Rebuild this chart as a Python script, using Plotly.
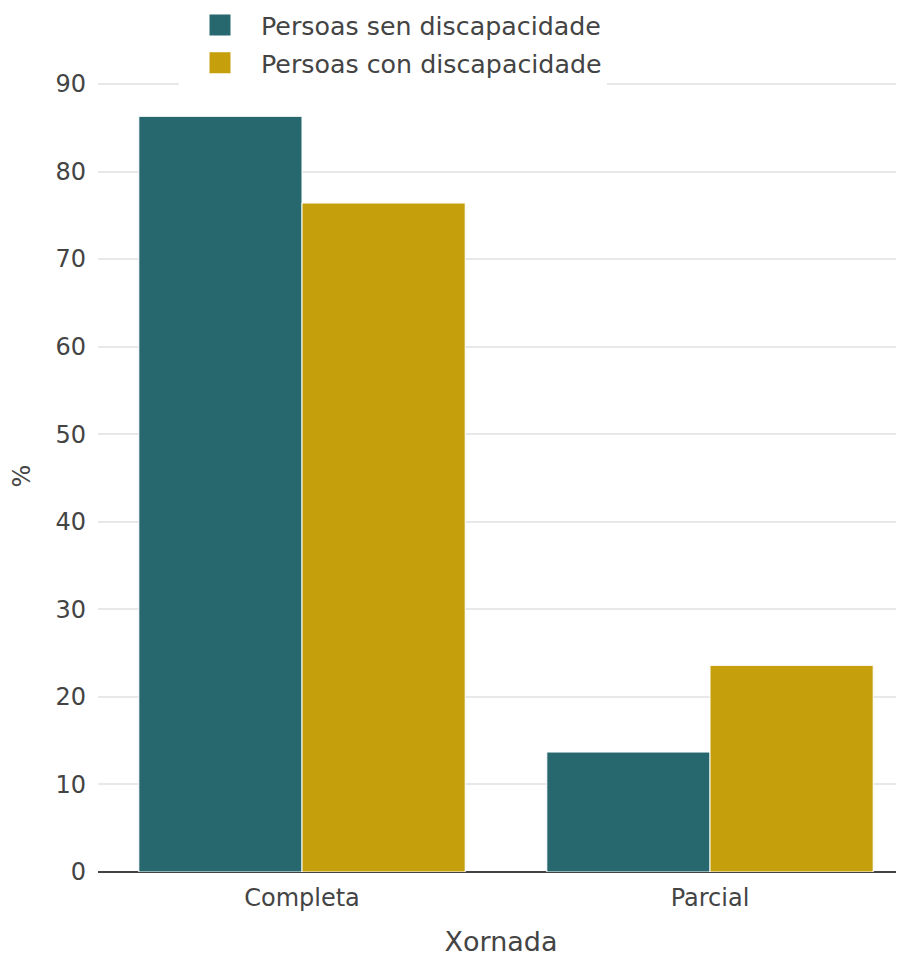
import plotly.graph_objects as go

categories = ["Completa", "Parcial"]
series_names = ["Persoas sen discapacidade", "Persoas con discapacidade"]
sen_values = [86.3, 13.7]
con_values = [76.4, 23.6]
colors = ["#27686e", "#c6a00c"]
y_ticks = [0, 10, 20, 30, 40, 50, 60, 70, 80, 90]

FONT = "DejaVu Sans"
TXT = "#444444"

fig = go.Figure()
for i, (name, vals, col) in enumerate(zip(series_names, [sen_values, con_values], colors)):
    fig.add_trace(go.Bar(
        x=categories, y=vals, name=name,
        marker=dict(color=col, line=dict(color="white", width=1)),
        showlegend=False,
    ))
    fig.add_trace(go.Scatter(
        x=[None], y=[None], name=name, mode="markers", legendgroup=f"g{i}",
        marker=dict(symbol="square", size=22, color=col, line=dict(color=col, width=6)),
        showlegend=True,
    ))

fig.update_layout(
    width=896, height=952,
    margin=dict(l=90, r=0, t=72, b=88, autoexpand=False),
    paper_bgcolor="white", plot_bgcolor="white",
    barmode="group", bargap=0.2, bargroupgap=0,
    font=dict(family=FONT, color=TXT, size=24),
    legend=dict(
        x=0.1005, y=1.0985, xanchor="left", yanchor="top",
        bgcolor="white", font=dict(size=25.3, color=TXT),
        tracegroupgap=2, itemwidth=72,
    ),
    xaxis=dict(
        type="category", range=[-0.5, 1.4755],
        showgrid=False, showline=False, zeroline=False,
        tickfont=dict(size=24, color=TXT),
        title=dict(text="Xornada", font=dict(size=27, color=TXT), standoff=21),
        ticklabelstandoff=9,
    ),
    yaxis=dict(
        range=[0, 90.45], tickvals=y_ticks,
        showgrid=True, gridcolor="#e8e8e8", gridwidth=1.5,
        zeroline=True, zerolinecolor=TXT, zerolinewidth=2,
        showline=False,
        tickfont=dict(size=24, color=TXT),
        title=dict(text="%", font=dict(size=24, color=TXT), standoff=30),
        ticklabelstandoff=11,
    ),
)

fig.write_html("out.html")
